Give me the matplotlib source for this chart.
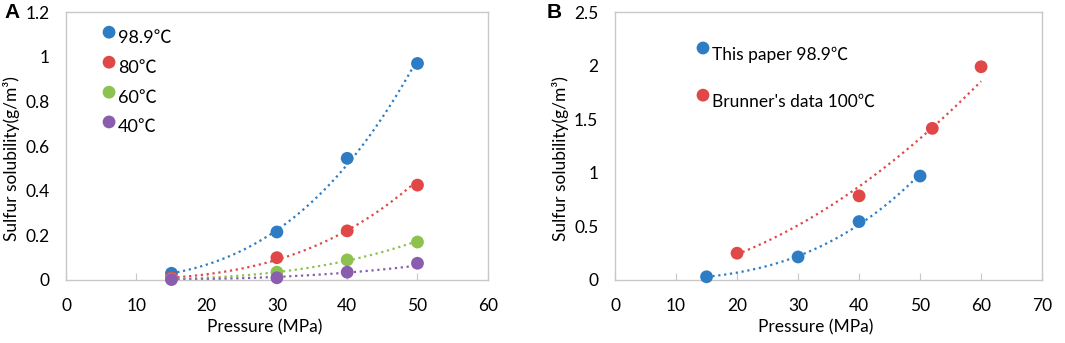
import matplotlib
matplotlib.use('Agg')
import matplotlib.pyplot as plt
import numpy as np

plt.rcParams['font.family'] = ['Lato', 'Noto Sans CJK SC', 'DejaVu Sans']

# panel A data
pressure_a = [15, 30, 40, 50]
sol_989 = [0.03, 0.215, 0.545, 0.97]
sol_80 = [0.01, 0.10, 0.22, 0.425]
sol_60 = [0.004, 0.035, 0.09, 0.17]
sol_40 = [0.002, 0.01, 0.035, 0.075]
labels_a = ['98.9℃', '80℃', '60℃', '40℃']

# panel B data
pressure_paper = [15, 30, 40, 50]
sol_paper = [0.03, 0.215, 0.545, 0.97]
pressure_brunner = [20, 40, 52, 60]
sol_brunner = [0.25, 0.785, 1.415, 1.99]
labels_b = ['This paper 98.9℃', "Brunner's data 100℃"]

blue = '#2E7DC4'
red = '#E04848'
green = '#8DC24E'
purple = '#8A5DAE'
frame = '#C8C8C8'


def power_trend(x, y):
    # Excel-style power trendline, fitted in log space
    x = np.asarray(x, float)
    y = np.asarray(y, float)
    b, lna = np.polyfit(np.log(x), np.log(y), 1)
    xs = np.linspace(x.min(), x.max(), 100)
    return xs, np.exp(lna) * xs ** b


def style_axes(ax, xmax, ymax, yticks, ylabels):
    ax.set_xlim(0, xmax)
    ax.set_ylim(0, ymax)
    ax.set_xticks(range(0, xmax + 1, 10))
    ax.set_yticks(yticks)
    ax.set_yticklabels(ylabels)
    for s in ax.spines.values():
        s.set_color(frame)
        s.set_linewidth(1.0)
    ax.tick_params(axis='x', direction='in', length=5, color=frame, labelsize=12.5, pad=13)
    ax.tick_params(axis='y', length=0, labelsize=12.5, pad=12)
    ax.set_xlabel('Pressure (MPa)', fontsize=12.5)
    ax.set_ylabel('Sulfur solubility(g/m³)', fontsize=12.5)
    ax.xaxis.set_label_coords(0.47, -0.145)
    ax.yaxis.set_label_coords(-0.108, 0.455)


fig = plt.figure(figsize=(10.65, 3.43), dpi=100)
axA = fig.add_axes([0.062, 0.1837, 0.396, 0.781])
axB = fig.add_axes([0.5775, 0.1837, 0.401, 0.781])

# panel A
series_a = [(sol_989, blue), (sol_80, red), (sol_60, green), (sol_40, purple)]
for vals, c in series_a:
    xs, ys = power_trend(pressure_a, vals)
    axA.plot(xs, ys, ls=':', color=c, lw=1.6, zorder=2)
for vals, c in series_a:
    axA.scatter(pressure_a, vals, s=85, color=c, zorder=3, clip_on=False, edgecolors='none')
style_axes(axA, 60, 1.2, [0, 0.2, 0.4, 0.6, 0.8, 1.0, 1.2],
           ['0', '0.2', '0.4', '0.6', '0.8', '1', '1.2'])

mk_y = [0.925, 0.813, 0.701, 0.590]
for i, (lab, (vals, c)) in enumerate(zip(labels_a, series_a)):
    axA.scatter([0.102], [mk_y[i]], s=85, color=c, transform=axA.transAxes,
                edgecolors='none', clip_on=False)
    axA.text(0.123, mk_y[i] - 0.02, lab, transform=axA.transAxes, fontsize=13,
             va='center', ha='left')

# panel B
series_b = [(pressure_paper, sol_paper, blue), (pressure_brunner, sol_brunner, red)]
for px, vals, c in series_b:
    xs, ys = power_trend(px, vals)
    axB.plot(xs, ys, ls=':', color=c, lw=1.6, zorder=2)
for px, vals, c in series_b:
    axB.scatter(px, vals, s=85, color=c, zorder=3, clip_on=False, edgecolors='none')
style_axes(axB, 70, 2.5, [0, 0.5, 1.0, 1.5, 2.0, 2.5],
           ['0', '0.5', '1', '1.5', '2', '2.5'])

mk_yb = [0.866, 0.690]
for i, (lab, (px, vals, c)) in enumerate(zip(labels_b, series_b)):
    axB.scatter([0.206], [mk_yb[i]], s=85, color=c, transform=axB.transAxes,
                edgecolors='none', clip_on=False)
    axB.text(0.228, mk_yb[i] - 0.026, lab, transform=axB.transAxes, fontsize=12.5,
             va='center', ha='left')

fig.text(0.004, 0.963, 'A', fontsize=15, fontweight='bold', va='center', ha='left',
         family='Liberation Sans')
fig.text(0.513, 0.963, 'B', fontsize=15, fontweight='bold', va='center', ha='left',
         family='Liberation Sans')

fig.savefig('out.png', dpi=100)
